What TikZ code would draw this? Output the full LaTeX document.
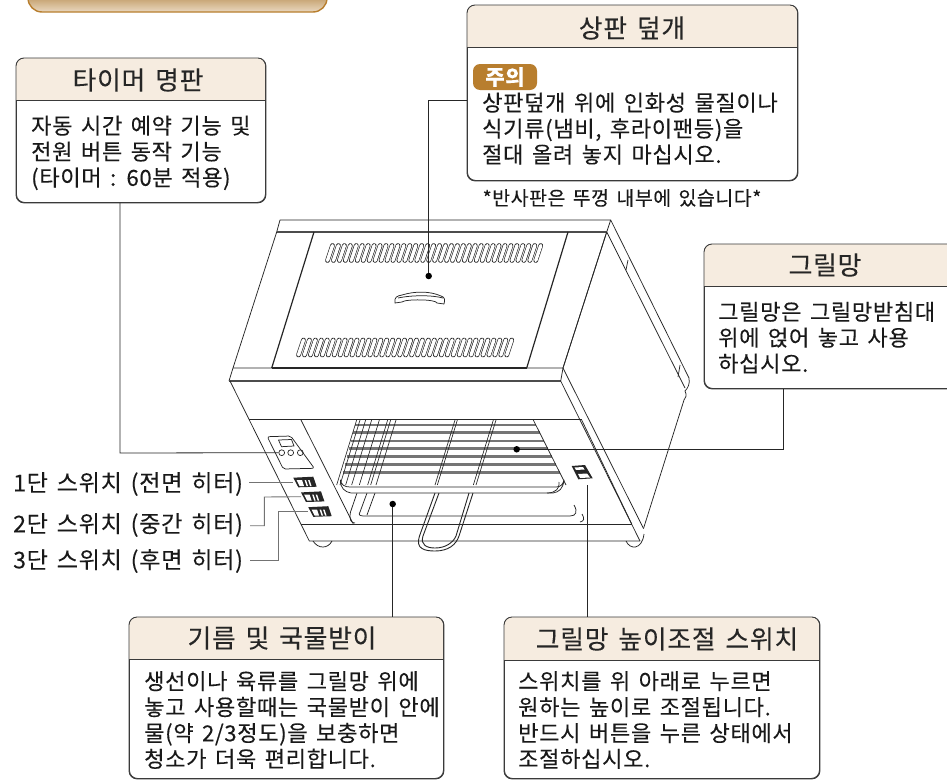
\documentclass[tikz,border=0pt]{standalone}
\usepackage{fontspec}
\setmainfont{Noto Sans CJK KR}
\newfontfamily\krtext[LetterSpace=3,WordSpace=1.5,FakeBold=0.15]{Noto Sans CJK KR}
\usetikzlibrary{calc, positioning}
\definecolor{headfill}{HTML}{F6ECE0}
\definecolor{boxline}{HTML}{3A3A3A}
\definecolor{tanline}{HTML}{B87E2E}
\definecolor{wirecol}{HTML}{757575}

\begin{document}
\begin{tikzpicture}[x=1pt,y=1pt]
\tikzstyle{panel}=[draw=boxline,line width=0.9pt,rounded corners=8pt,fill=white,anchor=north west,inner sep=0pt]
\tikzstyle{headline}=[font=\krtext\fontsize{25.8}{30}\selectfont,text=black!85,inner sep=0pt]
\tikzstyle{bodytext}=[font=\krtext\fontsize{22.1}{25.9}\selectfont,text=black!90,align=left,anchor=north west,inner sep=0pt]
\tikzstyle{outline}=[line width=0.75pt,black!85,line join=round]
\tikzstyle{leader}=[line width=0.8pt,black!85]
\tikzstyle{greyleader}=[line width=0.9pt,black!55]
\tikzstyle{dot}=[circle,fill=black,inner sep=0pt,minimum size=6.5pt]
\tikzstyle{sidelabel}=[font=\krtext\fontsize{23.1}{25}\selectfont,text=black!90,anchor=west,inner sep=0pt]
\tikzstyle{slot}=[line width=0.65pt,double=white,double distance=3.4pt,line cap=round,black!85]

\path[use as bounding box,fill=white] (0,0) rectangle (947,-779);

% cut-off box at the top
\draw[tanline,line width=1.4pt,rounded corners=14pt,top color=tanline!90!black,bottom color=tanline!30]
  (28,14) rectangle (327,-12);

% boxes
\foreach \boxname/\xa/\ya/\bw/\bh/\hh in {timerbox/16/58/249/144/42, lidbox/467/5/330/175/42,
    grillbox/704/244/260/144/42, panbox/129/617/314/161/42, heightbox/504/617/315/161/43} {
  \node[panel,minimum width=\bw pt,minimum height=\bh pt] (\boxname) at (\xa,-\ya) {};
  \fill[headfill] (\xa,-\ya-\hh) [rounded corners=8pt] -- (\xa,-\ya) -- (\xa+\bw,-\ya) [sharp corners] -- (\xa+\bw,-\ya-\hh) -- cycle;
  \draw[boxline,line width=0.9pt,rounded corners=8pt] (\boxname.north west) rectangle (\boxname.south east);
  \draw[boxline,line width=0.9pt] (\xa,-\ya-\hh) -- (\xa+\bw,-\ya-\hh);
}

\node[headline] (timertitle) at (138,-80) {타이머 명판};
\node[headline] (lidtitle) at (632,-28) {상판 덮개};
\node[headline] (grilltitle) at (825,-265) {그릴망};
\node[headline] (pantitle) at (282,-638) {기름 및 국물받이};
\node[headline] (heighttitle) at (667,-639) {그릴망 높이조절 스위치};

\node[bodytext] (timertext) at (31,-115.5) {자동 시간 예약 기능 및\\전원 버튼 동작 기능\\(타이머 : 60분 적용)};
\node[fill=tanline,rounded corners=7pt,minimum width=64pt,minimum height=26pt,inner sep=0pt,text=white,
  font=\krtext\bfseries\fontsize{21}{24}\selectfont] (warnbadge) at (505,-77) {주의};
\node[bodytext] (lidtext) at (482,-92.5) {상판덮개 위에 인화성 물질이나\\식기류(냄비, 후라이팬등)을\\절대 올려 놓지 마십시오.};
\node[font=\krtext\fontsize{19.4}{22}\selectfont,inner sep=0pt,text=black!90] (reflectnote) at (622,-198) {*반사판은 뚜껑 내부에 있습니다*};
\node[bodytext] (grilltext) at (718,-301.5) {그릴망은 그릴망받침대\\위에 얹어 놓고 사용\\하십시오.};
\node[bodytext] (pantext) at (144,-671) {생선이나 육류를 그릴망 위에\\놓고 사용할때는 국물받이 안에\\물(약 2/3정도)을 보충하면\\청소가 더욱 편리합니다.};
\node[bodytext] (heighttext) at (518,-671) {스위치를 위 아래로 누르면\\원하는 높이로 조절됩니다.\\반드시 버튼을 누른 상태에서\\조절하십시오.};

\node[sidelabel] (firstlabel) at (13,-484) {1단 스위치 (전면 히터)};
\node[sidelabel] (secondlabel) at (13,-525) {2단 스위치 (중간 히터)};
\node[sidelabel] (thirdlabel) at (13,-561) {3단 스위치 (후면 히터)};

% feet
\draw[outline] (313,-541) .. controls (318,-549) and (328,-549) .. (332,-541);
\draw[outline] (626,-541) .. controls (630,-550) and (642,-550) .. (644,-534);

% lid and top frame
\draw[outline] (280,-220) -- (610.7,-220) -- (606.7,-232) -- (276.7,-232) -- cycle;
\draw[outline] (276.7,-232) -- (233,-368) -- (563,-368) -- (606.7,-232);
\draw[outline,line width=1.4pt,black!70] (276.7,-232) -- (606.7,-232);
\draw[outline] (233,-368) -- (229,-381);
\draw[outline,line width=1.4pt,black!70] (229,-381) -- (560.7,-381);
\draw[outline] (563,-368) -- (560.7,-381);
\draw[outline,line width=1.2pt] (314,-232) -- (271.7,-368);
\draw[outline,line width=1.2pt] (568,-232) -- (526.7,-368);
\draw[outline,line width=1.2pt] (271.7,-368) -- (526.7,-368);
\foreach \n in {0,...,35} {
  \draw[slot] ({332.5+\n*5.95},-245.5) -- ({327.5+\n*5.95},-260.5);
  \draw[slot] ({303.5+\n*5.95},-340) -- ({298.5+\n*5.95},-355);
}
\draw[outline,fill=white] (395,-303) .. controls (394,-297) and (397,-296) .. (402,-295)
  .. controls (415,-291) and (430,-291) .. (441,-296) .. controls (445,-297) and (445,-300) .. (444,-304)
  -- (437,-303) .. controls (436,-299) and (405,-299) .. (402,-302) -- cycle;
\draw[outline] (398,-298) .. controls (412,-295) and (432,-295) .. (443,-298);

% right side
\draw[outline] (610.7,-220) -- (689,-378) .. controls (690,-384) and (688,-388) .. (685,-391)
  .. controls (687,-395) and (686,-398) .. (684,-400) -- (643.5,-528.5);
\draw[outline] (606.7,-232) -- (685,-388);
\draw[outline] (606.7,-232) -- (563,-368);
\draw[outline] (628,-260) -- (626,-270);
\draw[outline] (680,-365) -- (678,-377);
\draw[outline] (563,-368) -- (643.5,-528.5);
\draw[outline] (560.7,-381) -- (640,-541);
\draw[outline] (581.7,-420) -- (631.7,-524);

% front frame
\draw[outline] (230,-381) -- (309.3,-541) -- (640,-541);
\draw[outline] (249.3,-419.3) -- (581.7,-419.3);
\draw[outline] (301,-420) -- (353.3,-524);
\draw[outline] (301,-524) -- (631.7,-524);

% pan under the rack
\draw[outline] (357,-493) -- (350.5,-512) .. controls (349,-520) and (351,-523) .. (355,-523);
\draw[outline] (367,-493) -- (360,-512) .. controls (358,-515) and (360,-516) .. (364,-516) -- (570,-516)
  .. controls (576,-516) and (578,-512) .. (574,-505);
\draw[outline] (375,-493) -- (367,-515);
\draw[outline] (580,-522) .. controls (584,-521) and (585,-519) .. (582,-514);

% rack bars
\foreach \ypos in {135,158,183,206,230,254,278} {
  \draw[wirecol,line width=2.6pt] ({220+(410-(\ypos-120)*0.267)/3},{-380-\ypos/3}) -- ({220+(940+(\ypos-120)*0.5)/3},{-380-\ypos/3});
}
\foreach \xpos in {410,420,437,455,478,503,512,528,705,712,820,828} {
  \draw[outline,line width=0.65pt] ({220+\xpos/3},-420) -- ({220+\xpos/3-20},-485);
}
\draw[outline] (533.3,-420) -- (566,-485);
\draw[outline,fill=white] (340.5,-480) .. controls (341,-485) and (345,-487) .. (350,-487) -- (556,-487)
  .. controls (561,-487) and (563,-484) .. (564,-480) .. controls (563,-489) and (559,-492) .. (553,-493)
  -- (351,-493) .. controls (345,-492) and (340,-488) .. (340.5,-480) -- cycle;
\draw[outline] (547,-493) .. controls (556,-493) and (560,-488) .. (559,-482);

% handle of the rack
\draw[outline,line width=0.9pt] (435,-493) -- (419.5,-536) .. controls (415,-549) and (425,-551) .. (435,-551)
  .. controls (448,-551) and (456,-545) .. (459,-536) -- (473,-493);
\draw[outline,line width=0.9pt] (439,-493) -- (423,-536) .. controls (420,-545) and (427,-548) .. (435,-548)
  .. controls (445,-548) and (453,-543) .. (456,-536) -- (469,-493);

% control panel
\draw[outline,rounded corners=2pt] (267.3,-436.7) -- (290.7,-436) -- (314.3,-468.3) -- (283.3,-469) -- cycle;
\draw[outline] (278.5,-440) -- (291.5,-439.5) -- (294,-446) -- (281.5,-446.7) -- cycle;
\foreach \cx/\cname in {281.7/tbutton, 290.7/mbutton, 300.3/bbutton} {
  \node[circle,draw=black!85,line width=0.7pt,minimum size=5.8pt,inner sep=0pt] (\cname) at (\cx,-452.7) {};
}
\foreach \dx/\dy/\sname in {0/0/firstswitch, 7.7/14.7/secondswitch, 15/29.5/thirdswitch} {
  \begin{scope}[shift={(\dx,-\dy)}]
    \fill[black!85] (293.3,-477.7) -- (313.3,-476.7) -- (316.7,-486.7) -- (298.3,-487.3) -- cycle;
    \fill[white] (296.5,-480) -- (302,-480) -- (304,-486) -- (299.5,-486) -- cycle;
    \fill[white] (304.5,-480) -- (306,-480) -- (308,-486) -- (306.5,-486) -- cycle;
    \fill[white] (308,-480) -- (309.5,-480) -- (311.5,-486) -- (310,-486) -- cycle;
    \coordinate (\sname) at (293.3,-482);
  \end{scope}
}
% height switch
\fill[black!85] (571.7,-466) -- (585,-465) -- (592.7,-478.3) -- (578.3,-479.3) -- cycle;
\fill[white] (574.5,-467.5) -- (583,-467) -- (584.5,-469.5) -- (576,-470) -- cycle;
\fill[white] (578,-474) -- (587,-473.5) -- (590,-477.5) -- (580,-478) -- cycle;

% dots and leaders
\node[dot] (liddot) at (428.7,-276) {};
\node[dot] (grilldot) at (516.7,-449.3) {};
\node[dot] (pandot) at (392.7,-504) {};
\coordinate (lidcorner) at (428.7,-100);
\coordinate (grillcorner) at (783,-449.3);
\coordinate (timercorner) at (120,-453);
\coordinate (heightend) at (587.3,-485);

\draw[leader] (liddot) -- (lidcorner) -- (lidbox.west |- lidcorner);
\draw[leader] (grilldot) -- (grillcorner) -- (grillcorner |- grillbox.south);
\draw[leader] (pandot) -- (pandot |- panbox.north);
\draw[leader] (heightend) -- (heightend |- heightbox.north);
\draw[leader] (timercorner |- timerbox.south) -- (timercorner) -- (tbutton.west);
\coordinate (firststart) at (249,-482);
\coordinate (secondstart) at (250,-525.7);
\coordinate (secondturn) at (264.3,-525.7);
\coordinate (secondtop) at (264.3,-497);
\coordinate (thirdstart) at (250,-560);
\coordinate (thirdturn) at (278,-560);
\coordinate (thirdtop) at (278,-511.5);
\draw[greyleader] (firststart) -- (firstswitch);
\draw[greyleader] (secondstart) -- (secondturn) -- (secondtop) -- (secondswitch);
\draw[greyleader] (thirdstart) -- (thirdturn) -- (thirdtop) -- (thirdswitch);
\end{tikzpicture}
\end{document}
